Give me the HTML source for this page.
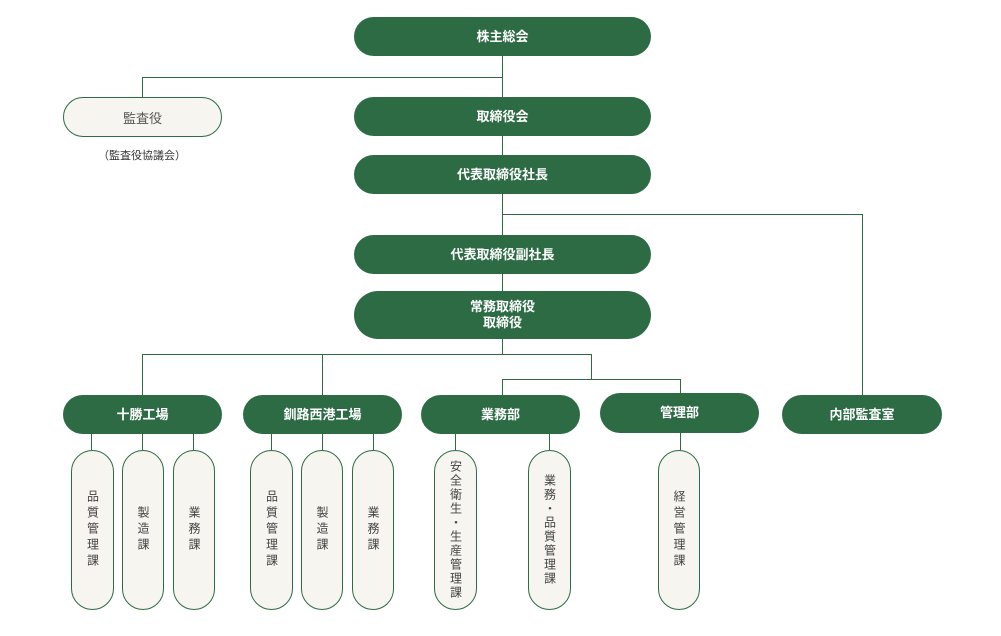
<!DOCTYPE html>
<html><head><meta charset="utf-8"><style>
body{margin:0;background:#fff;width:1001px;height:636px;position:relative;overflow:hidden;font-family:"Liberation Sans","Noto Sans CJK JP",sans-serif}
.g{position:absolute;background:#2d6b45;color:#fff;font-weight:bold;font-size:13px;display:flex;align-items:center;justify-content:center;border-radius:20px;text-align:center;line-height:16px}
.l{position:absolute;background:#f6f5ef;border:1px solid #2d6b45;color:#444;box-sizing:border-box;display:flex;align-items:center;justify-content:center}
.p{border-radius:22px}
.v{writing-mode:vertical-rl;font-size:12px;letter-spacing:4px;line-height:14px}
.h{position:absolute;background:#2d6b45;height:1px}
.w{position:absolute;background:#2d6b45;width:1px}
</style></head><body>
<div class="w" style="left:502px;top:56px;height:41px"></div>
<div class="h" style="left:142px;top:77px;width:361px"></div>
<div class="w" style="left:142px;top:77px;height:20px"></div>
<div class="w" style="left:502px;top:136px;height:19px"></div>
<div class="w" style="left:502px;top:194px;height:41px"></div>
<div class="h" style="left:502px;top:214px;width:361px"></div>
<div class="w" style="left:862px;top:214px;height:181px"></div>
<div class="w" style="left:502px;top:274px;height:17px"></div>
<div class="w" style="left:502px;top:339px;height:15px"></div>
<div class="h" style="left:142px;top:354px;width:450px"></div>
<div class="w" style="left:142px;top:354px;height:41px"></div>
<div class="w" style="left:322px;top:354px;height:41px"></div>
<div class="w" style="left:591px;top:354px;height:25px"></div>
<div class="h" style="left:502px;top:379px;width:179px"></div>
<div class="w" style="left:502px;top:379px;height:16px"></div>
<div class="w" style="left:680px;top:379px;height:14px"></div>
<div class="w" style="left:91px;top:434px;height:16px"></div>
<div class="w" style="left:142px;top:434px;height:16px"></div>
<div class="w" style="left:193px;top:434px;height:16px"></div>
<div class="w" style="left:271px;top:434px;height:16px"></div>
<div class="w" style="left:322px;top:434px;height:16px"></div>
<div class="w" style="left:373px;top:434px;height:16px"></div>
<div class="w" style="left:455px;top:434px;height:16px"></div>
<div class="w" style="left:549px;top:434px;height:16px"></div>
<div class="w" style="left:680px;top:433px;height:17px"></div>
<div class="g" style="left:354px;top:17px;width:297px;height:39px">株主総会</div>
<div class="l" style="left:63px;top:97px;width:159px;height:40px;border-radius:20px;font-size:13px;color:#555">監査役</div>
<div style="position:absolute;left:98px;top:147px;font-size:11px;color:#333">（監査役協議会）</div>
<div class="g" style="left:354px;top:97px;width:297px;height:39px">取締役会</div>
<div class="g" style="left:354px;top:155px;width:297px;height:39px">代表取締役社長</div>
<div class="g" style="left:354px;top:235px;width:297px;height:39px">代表取締役副社長</div>
<div class="g" style="left:354px;top:291px;width:297px;height:48px;border-radius:24px">常務取締役<br>取締役</div>
<div class="g" style="left:63px;top:395px;width:159px;height:39px">十勝工場</div>
<div class="g" style="left:243px;top:395px;width:159px;height:39px">釧路西港工場</div>
<div class="g" style="left:421px;top:395px;width:159px;height:39px">業務部</div>
<div class="g" style="left:600px;top:393px;width:159px;height:40px">管理部</div>
<div class="g" style="left:782px;top:395px;width:160px;height:39px">内部監査室</div>
<div class="l p" style="left:71px;top:450px;width:43px;height:160px"><span class="v">品質管理課</span></div>
<div class="l p" style="left:122px;top:450px;width:42px;height:160px"><span class="v">製造課</span></div>
<div class="l p" style="left:173px;top:450px;width:42px;height:160px"><span class="v">業務課</span></div>
<div class="l p" style="left:250px;top:450px;width:43px;height:160px"><span class="v">品質管理課</span></div>
<div class="l p" style="left:301px;top:450px;width:42px;height:160px"><span class="v">製造課</span></div>
<div class="l p" style="left:352px;top:450px;width:42px;height:160px"><span class="v">業務課</span></div>
<div class="l p" style="left:434px;top:450px;width:43px;height:160px"><span class="v" style="letter-spacing:2px">安全衛生・生産管理課</span></div>
<div class="l p" style="left:528px;top:450px;width:43px;height:160px"><span class="v" style="letter-spacing:2px">業務・品質管理課</span></div>
<div class="l p" style="left:658px;top:450px;width:42px;height:160px"><span class="v">経営管理課</span></div>
</body></html>
